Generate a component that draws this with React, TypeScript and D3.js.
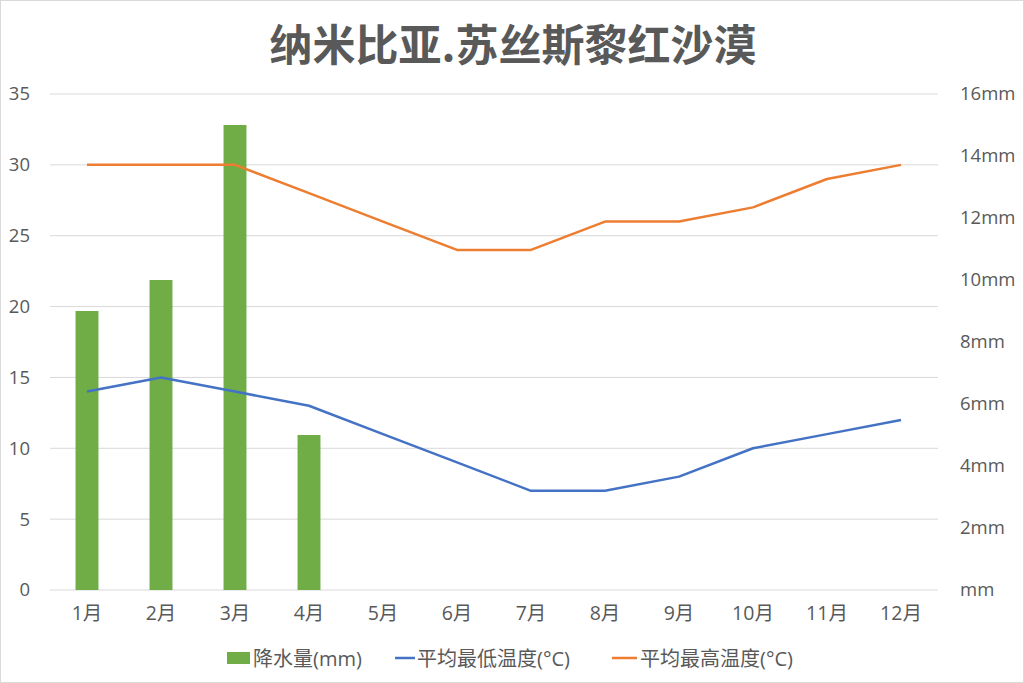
import React from "react";
import * as d3 from "d3";

const months = ["1月", "2月", "3月", "4月", "5月", "6月", "7月", "8月", "9月", "10月", "11月", "12月"];
const precipitation = [9, 10, 15, 5, 0, 0, 0, 0, 0, 0, 0, 0];
const minTemp = [14, 15, 14, 13, 11, 9, 7, 7, 8, 10, 11, 12];
const maxTemp = [30, 30, 30, 28, 26, 24, 24, 26, 26, 27, 29, 30];
const leftTicks = [0, 5, 10, 15, 20, 25, 30, 35];
const rightTicks = [0, 2, 4, 6, 8, 10, 12, 14, 16];
const title = "纳米比亚.苏丝斯黎红沙漠";
const legendLabels = ["降水量(mm)", "平均最低温度(°C)", "平均最高温度(°C)"];

const W = 1024;
const H = 683;
const FONT = "'Open Sans', 'Noto Sans CJK SC', sans-serif";
const TEXT = "#595959";

export default function App() {
  const left = 50, right = 938, top = 94, bottom = 590;
  const x = d3.scaleBand<string>().domain(months).range([left, right]).paddingInner(0).paddingOuter(0);
  const yL = d3.scaleLinear().domain([0, 35]).range([bottom, top]);
  const yR = d3.scaleLinear().domain([0, 16]).range([bottom, top]);
  const barW = x.bandwidth() * 0.31;
  const cx = (m: string) => (x(m) as number) + x.bandwidth() / 2;
  const lineGen = d3.line<number>().x((_, i) => cx(months[i])).y((d) => yL(d));

  return (
    <svg width={W} height={H} style={{ position: "absolute", left: 0, top: 0, display: "block" }} fontFamily={FONT}>
      <rect x={0.5} y={0.5} width={W - 1} height={H - 1} fill="#fff" stroke="#d9d9d9" />
      <text x={513} y={61} textAnchor="middle" fontSize={43} fontWeight="bold" fill={TEXT}
        fontFamily="'Noto Sans CJK SC', sans-serif">{title}</text>
      {leftTicks.map((t) => (
        <g key={"g" + t}>
          <line x1={left} x2={right} y1={yL(t)} y2={yL(t)} stroke="#d9d9d9" strokeWidth={1} />
          <text x={30} y={yL(t)} dy="0.35em" textAnchor="end" fontSize={18.5} fill={TEXT}>{t}</text>
        </g>
      ))}
      {rightTicks.map((t) => (
        <text key={"r" + t} x={960} y={yR(t)} dy="0.35em" textAnchor="start" fontSize={18.5} fill={TEXT}>
          {t === 0 ? "mm" : t + "mm"}
        </text>
      ))}
      {months.map((m, i) => (
        precipitation[i] > 0 ? (
          <rect key={"b" + m} x={cx(m) - barW / 2} y={yR(precipitation[i])} width={barW}
            height={bottom - yR(precipitation[i])} fill="#70AD47" />
        ) : null
      ))}
      <path d={lineGen(minTemp) || ""} fill="none" stroke="#4472C4" strokeWidth={2.5} strokeLinejoin="round" />
      <path d={lineGen(maxTemp) || ""} fill="none" stroke="#ED7D31" strokeWidth={2.5} strokeLinejoin="round" />
      {months.map((m) => (
        <text key={"x" + m} x={cx(m)} y={620} textAnchor="middle" fontSize={19.5} fill={TEXT}>{m}</text>
      ))}
      <g fontSize={20} fill={TEXT}>
        <rect x={227} y={652} width={23} height={12} fill="#70AD47" />
        <text x={253} y={666}>{legendLabels[0]}</text>
        <line x1={395} x2={415} y1={658} y2={658} stroke="#4472C4" strokeWidth={2.5} />
        <text x={417} y={666}>{legendLabels[1]}</text>
        <line x1={612} x2={637} y1={658} y2={658} stroke="#ED7D31" strokeWidth={2.5} />
        <text x={640} y={666}>{legendLabels[2]}</text>
      </g>
    </svg>
  );
}
